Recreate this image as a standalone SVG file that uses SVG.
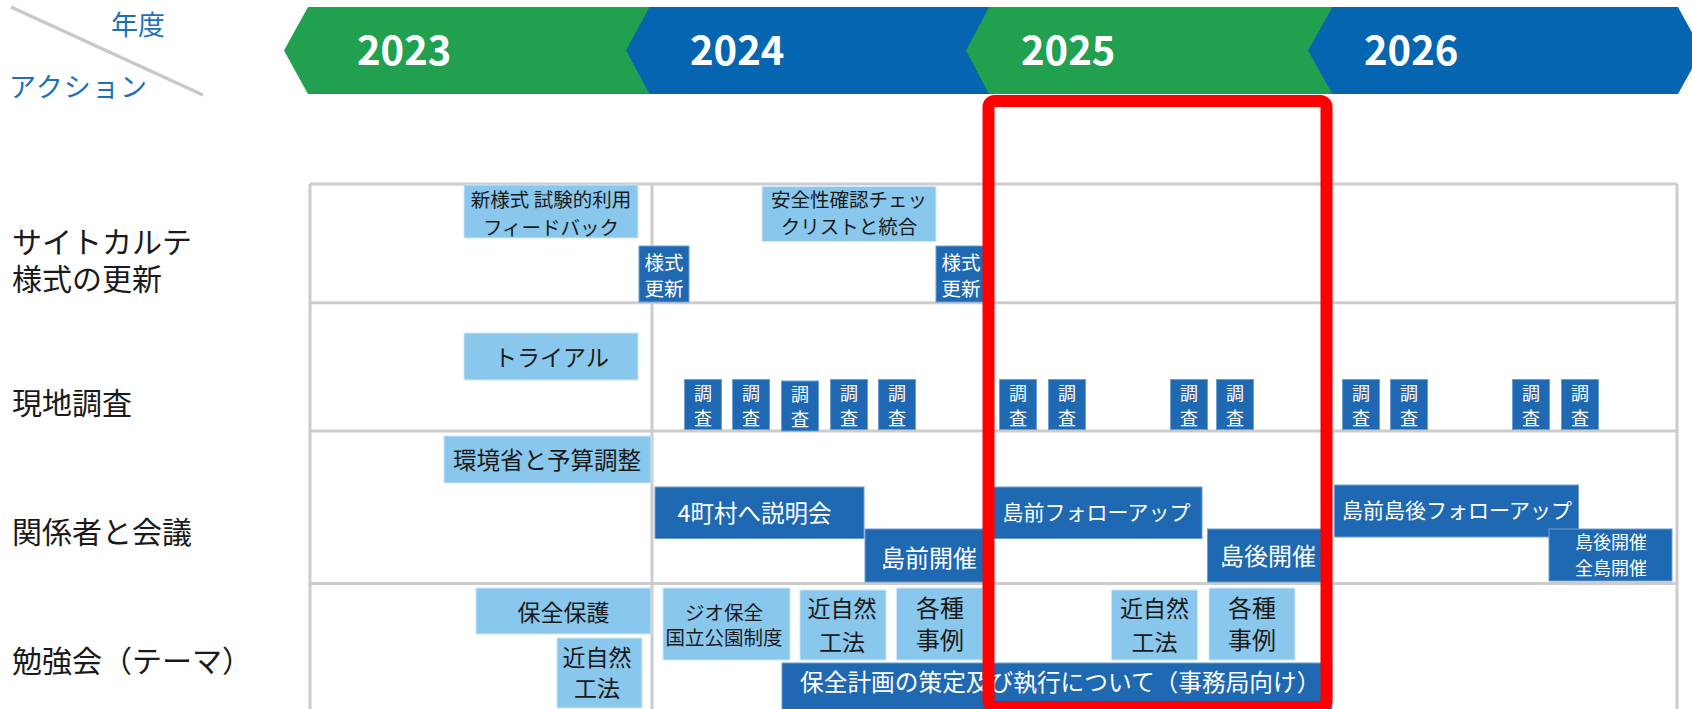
<svg xmlns="http://www.w3.org/2000/svg" width="1692" height="709" viewBox="0 0 1692 709">
<style>
text{font-family:"Noto Sans CJK JP","Noto Sans",sans-serif;dominant-baseline:central}
.lb{fill:#89c7ec;stroke:#cfe8f8;stroke-width:1}
.db{fill:#1f68b2;stroke:#6f9fd0;stroke-width:1}
.tk{fill:#1a1a1a;text-anchor:middle}
.tw{fill:#ffffff;text-anchor:middle}
.row{fill:#1a1a1a;font-size:30px}
.yr{fill:#ffffff;font-size:40px;font-weight:bold}
.grid{stroke:#cccccc;stroke-width:3;fill:none}
.hd{fill:#1e6fba;font-size:27px}
</style>
<rect width="1692" height="709" fill="#ffffff"/>

<g id="header">
  <line x1="11" y1="7" x2="203" y2="95" stroke="#c8c8c8" stroke-width="3.5"/>
  <text class="hd" x="111" y="23.5">年度</text>
  <text class="hd" x="9" y="85" textLength="138">アクション</text>
  <polygon points="308,7 660,7 660,94 308,94 284,50.5" fill="#21a050"/>
  <polygon points="649.5,7 995,7 995,94 649.5,94 626,50.5" fill="#0665b0"/>
  <polygon points="989,7 1340,7 1340,94 989,94 966,50.5" fill="#21a050"/>
  <polygon points="1332.5,7 1678,7 1702,50.5 1678,94 1332.5,94 1308,50.5" fill="#0665b0"/>
  <text class="yr" x="357" y="48">2023</text>
  <text class="yr" x="690" y="48">2024</text>
  <text class="yr" x="1021" y="48">2025</text>
  <text class="yr" x="1364" y="48">2026</text>
</g>

<g id="grid">
  <line class="grid" x1="310" y1="184" x2="1677" y2="184"/>
  <line class="grid" x1="310" y1="302.7" x2="1677" y2="302.7"/>
  <line class="grid" x1="310" y1="431" x2="1677" y2="431"/>
  <line class="grid" x1="310" y1="583.5" x2="1677" y2="583.5"/>
  <line class="grid" x1="310" y1="184" x2="310" y2="709"/>
  <line class="grid" x1="652" y1="184" x2="652" y2="709"/>
  <line class="grid" x1="1677" y1="184" x2="1677" y2="709"/>
</g>

<g id="row-labels">
  <text class="row" x="12" y="240">サイトカルテ</text>
  <text class="row" x="12" y="276.5">様式の更新</text>
  <text class="row" x="12" y="400.5">現地調査</text>
  <text class="row" x="12" y="530">関係者と会議</text>
  <text class="row" x="12" y="659">勉強会（テーマ）</text>
</g>

<g id="connectors"></g>

<!-- Row 1 -->
<g id="n-shinyoshiki">
  <rect class="lb" x="464" y="185" width="174" height="53"/>
  <text class="tk" x="551" y="198.5" font-size="19.5">新様式 試験的利用</text>
  <text class="tk" x="551" y="226" font-size="19.5">フィードバック</text>
</g>
<g id="n-anzensei">
  <rect class="lb" x="762" y="186.5" width="174" height="55"/>
  <text class="tk" x="849" y="198.5" font-size="19.5">安全性確認チェッ</text>
  <text class="tk" x="849" y="225" font-size="19.5">クリストと統合</text>
</g>
<g id="n-yoshiki1">
  <rect class="db" x="639" y="246" width="50" height="56"/>
  <text class="tw" x="664" y="261" font-size="19.5">様式</text>
  <text class="tw" x="664" y="287.5" font-size="19.5">更新</text>
</g>
<g id="n-yoshiki2">
  <rect class="db" x="936" y="246" width="50" height="56"/>
  <text class="tw" x="961" y="261" font-size="19.5">様式</text>
  <text class="tw" x="961" y="287.5" font-size="19.5">更新</text>
</g>

<!-- Row 2 -->
<g id="n-trial">
  <rect class="lb" x="464" y="333" width="174" height="47"/>
  <text class="tk" x="551.5" y="356" font-size="23">トライアル</text>
</g>
<g id="n-chosa-2024-1"><rect class="db" x="684.5" y="379.5" width="37" height="50"/><text class="tw" x="703" y="391.5" font-size="18">調</text><text class="tw" x="703" y="416.5" font-size="18">査</text></g>
<g id="n-chosa-2024-2"><rect class="db" x="732.5" y="379.5" width="37" height="50"/><text class="tw" x="751" y="391.5" font-size="18">調</text><text class="tw" x="751" y="416.5" font-size="18">査</text></g>
<g id="n-chosa-2024-3"><rect class="db" x="781.5" y="381" width="37" height="50"/><text class="tw" x="800" y="393" font-size="18">調</text><text class="tw" x="800" y="418" font-size="18">査</text></g>
<g id="n-chosa-2024-4"><rect class="db" x="830.5" y="379.5" width="37" height="50"/><text class="tw" x="849" y="391.5" font-size="18">調</text><text class="tw" x="849" y="416.5" font-size="18">査</text></g>
<g id="n-chosa-2024-5"><rect class="db" x="878.5" y="379.5" width="37" height="50"/><text class="tw" x="897" y="391.5" font-size="18">調</text><text class="tw" x="897" y="416.5" font-size="18">査</text></g>
<g id="n-chosa-2025-1"><rect class="db" x="999.5" y="379.5" width="37" height="50"/><text class="tw" x="1018" y="391.5" font-size="18">調</text><text class="tw" x="1018" y="416.5" font-size="18">査</text></g>
<g id="n-chosa-2025-2"><rect class="db" x="1048.5" y="379.5" width="37" height="50"/><text class="tw" x="1067" y="391.5" font-size="18">調</text><text class="tw" x="1067" y="416.5" font-size="18">査</text></g>
<g id="n-chosa-2025-3"><rect class="db" x="1170.5" y="379.5" width="37" height="50"/><text class="tw" x="1189" y="391.5" font-size="18">調</text><text class="tw" x="1189" y="416.5" font-size="18">査</text></g>
<g id="n-chosa-2025-4"><rect class="db" x="1216.5" y="379.5" width="37" height="50"/><text class="tw" x="1235" y="391.5" font-size="18">調</text><text class="tw" x="1235" y="416.5" font-size="18">査</text></g>
<g id="n-chosa-2026-1"><rect class="db" x="1342.5" y="379.5" width="37" height="50"/><text class="tw" x="1361" y="391.5" font-size="18">調</text><text class="tw" x="1361" y="416.5" font-size="18">査</text></g>
<g id="n-chosa-2026-2"><rect class="db" x="1390.5" y="379.5" width="37" height="50"/><text class="tw" x="1409" y="391.5" font-size="18">調</text><text class="tw" x="1409" y="416.5" font-size="18">査</text></g>
<g id="n-chosa-2026-3"><rect class="db" x="1512.5" y="379.5" width="37" height="50"/><text class="tw" x="1531" y="391.5" font-size="18">調</text><text class="tw" x="1531" y="416.5" font-size="18">査</text></g>
<g id="n-chosa-2026-4"><rect class="db" x="1561.5" y="379.5" width="37" height="50"/><text class="tw" x="1580" y="391.5" font-size="18">調</text><text class="tw" x="1580" y="416.5" font-size="18">査</text></g>

<!-- Row 3 -->
<g id="n-kankyosho">
  <rect class="lb" x="444" y="436" width="207" height="47"/>
  <text class="tk" x="547" y="458.5" font-size="23.5">環境省と予算調整</text>
</g>
<g id="n-setsumeikai">
  <rect class="db" x="655" y="487" width="209" height="51.5"/>
  <text class="tw" x="754.5" y="511.5" font-size="23.5">4町村へ説明会</text>
</g>
<g id="n-tozen-kaisai">
  <rect class="db" x="865" y="529" width="123" height="53"/>
  <text class="tw" x="929" y="556.5" font-size="24">島前開催</text>
</g>
<g id="n-tozen-followup">
  <rect class="db" x="988" y="487" width="214" height="51.5"/>
  <text class="tw" x="1096.5" y="511" font-size="21">島前フォローアップ</text>
</g>
<g id="n-togo-kaisai">
  <rect class="db" x="1207.5" y="529" width="119.5" height="53"/>
  <text class="tw" x="1268" y="554" font-size="24">島後開催</text>
</g>
<g id="n-tozen-togo-followup">
  <rect class="db" x="1334.5" y="485" width="244" height="52"/>
  <text class="tw" x="1457" y="509" font-size="21">島前島後フォローアップ</text>
</g>
<g id="n-togo-zento">
  <rect class="db" x="1549" y="529" width="123" height="52"/>
  <text class="tw" x="1611" y="541" font-size="18">島後開催</text>
  <text class="tw" x="1611" y="566.5" font-size="18">全島開催</text>
</g>

<!-- Row 4 -->
<g id="n-hozen-hogo">
  <rect class="lb" x="476" y="588" width="175" height="46"/>
  <text class="tk" x="563.5" y="611" font-size="23">保全保護</text>
</g>
<g id="n-kinshizen-2023">
  <rect class="lb" x="557" y="638" width="85" height="70"/>
  <text class="tk" x="597" y="656" font-size="23">近自然</text>
  <text class="tk" x="597" y="687" font-size="23">工法</text>
</g>
<g id="n-geo">
  <rect class="lb" x="663" y="588" width="127" height="72"/>
  <text class="tk" x="724" y="611" font-size="19.5">ジオ保全</text>
  <text class="tk" x="724" y="636.5" font-size="19.5">国立公園制度</text>
</g>
<g id="n-kinshizen-2024">
  <rect class="lb" x="800" y="590" width="86" height="70"/>
  <text class="tk" x="842" y="606.5" font-size="23">近自然</text>
  <text class="tk" x="842" y="641" font-size="23">工法</text>
</g>
<g id="n-kakushu-2024">
  <rect class="lb" x="896.5" y="588" width="86" height="72"/>
  <text class="tk" x="940" y="606" font-size="24">各種</text>
  <text class="tk" x="940" y="638.5" font-size="24">事例</text>
</g>
<g id="n-kinshizen-2025">
  <rect class="lb" x="1111.5" y="590" width="86" height="70"/>
  <text class="tk" x="1154.5" y="606.5" font-size="23">近自然</text>
  <text class="tk" x="1154.5" y="641" font-size="23">工法</text>
</g>
<g id="n-kakushu-2025">
  <rect class="lb" x="1209" y="588" width="86" height="72"/>
  <text class="tk" x="1252" y="606" font-size="24">各種</text>
  <text class="tk" x="1252" y="638.5" font-size="24">事例</text>
</g>
<g id="n-hozen-keikaku">
  <rect class="db" x="782" y="663" width="550" height="50"/>
  <text x="800" y="680.5" font-size="23.7" fill="#ffffff">保全計画の策定及び執行について（事務局向け）</text>
</g>

<g id="highlight-2025">
  <rect x="988.5" y="101" width="338" height="606" rx="6" fill="none" stroke="#ff0000" stroke-width="12"/>
</g>
</svg>
